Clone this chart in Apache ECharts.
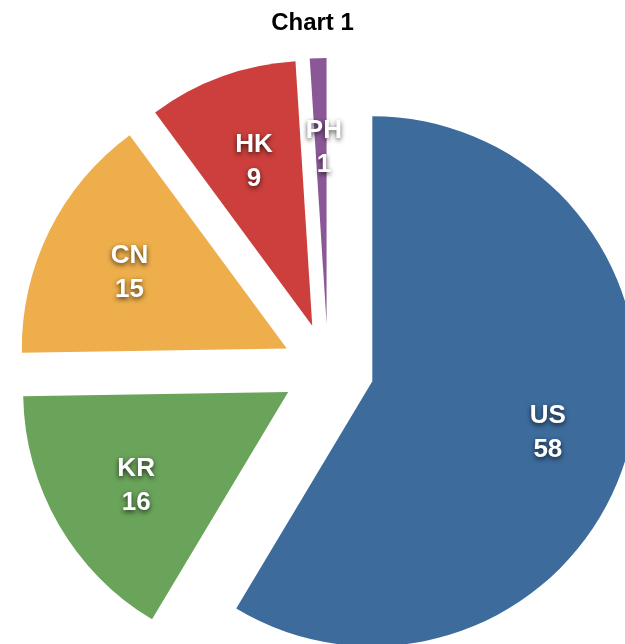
<!DOCTYPE html>
<html>
<head>
<meta charset="utf-8">
<script src="https://cdn.jsdelivr.net/npm/echarts@6/dist/echarts.min.js"></script>
<style>
  html, body { margin: 0; padding: 0; background: #fff; }
  #chart { width: 625px; height: 644px; }
</style>
</head>
<body>
<div id="chart"></div>
<script>
  // data
  var countries = ['US', 'KR', 'CN', 'HK', 'PH'];
  var counts = [58, 16, 15, 9, 1];
  var colors = ['#3c6b9c', '#6aa35a', '#edae4b', '#cc3f3c', '#8a5896'];

  var chart = echarts.init(document.getElementById('chart'));

  function slices(showColor) {
    return countries.map(function (name, i) {
      return {
        name: name,
        value: counts[i],
        selected: true,
        itemStyle: { color: showColor ? colors[i] : 'rgba(0,0,0,0)' }
      };
    });
  }

  var center = [328, 369];

  chart.setOption({
    animation: false,
    title: {
      text: 'Chart 1',
      left: 'center',
      top: 6,
      textStyle: {
        fontFamily: 'Liberation Sans, Arial, sans-serif',
        fontWeight: 'bold',
        fontSize: 24,
        color: '#000'
      }
    },
    series: [
      {
        // colored slices
        type: 'pie',
        center: center,
        radius: [0, 265],
        startAngle: 90,
        clockwise: true,
        selectedMode: 'multiple',
        selectedOffset: 46,
        silent: true,
        label: { show: false },
        labelLine: { show: false },
        emphasis: { disabled: true },
        data: slices(true)
      },
      {
        // transparent ring, only for the labels
        type: 'pie',
        center: center,
        radius: [87, 265],
        startAngle: 90,
        clockwise: true,
        selectedMode: 'multiple',
        selectedOffset: 46,
        silent: true,
        avoidLabelOverlap: false,
        labelLine: { show: false },
        emphasis: { disabled: true },
        labelLayout: { dx: 3, dy: 4 },
        label: {
          show: true,
          position: 'inside',
          formatter: '{b}\n{c}',
          color: '#fff',
          fontFamily: 'Liberation Sans, Arial, sans-serif',
          fontWeight: 'bold',
          fontSize: 26,
          lineHeight: 34,
          textShadowColor: 'rgba(0,0,0,0.7)',
          textShadowBlur: 5,
          textShadowOffsetX: 0,
          textShadowOffsetY: 2
        },
        data: slices(false)
      }
    ]
  });
</script>
</body>
</html>
